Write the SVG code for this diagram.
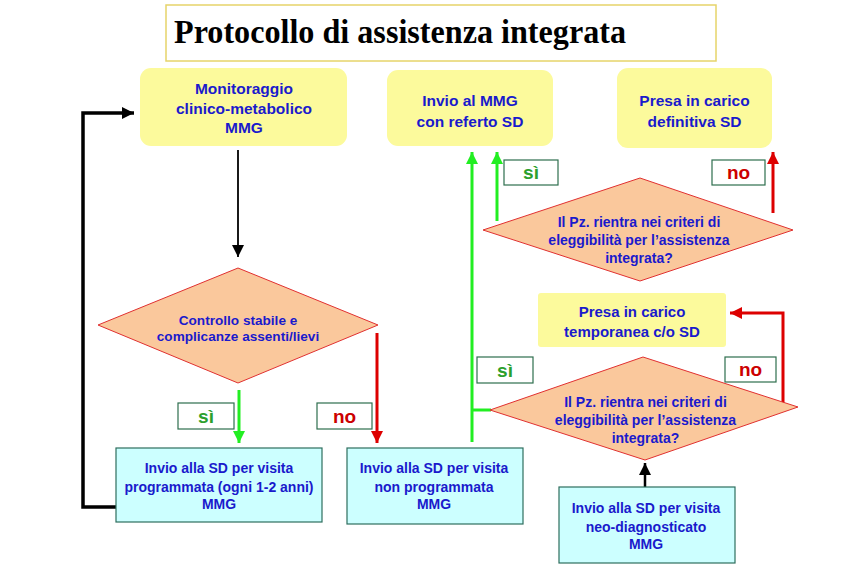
<svg xmlns="http://www.w3.org/2000/svg" width="861" height="578" viewBox="0 0 861 578">
<defs>
<style>
.t{font-family:"Liberation Sans",Arial,sans-serif;font-weight:bold;fill:#1a1acc;text-anchor:middle}
.yb{fill:#fcfa9c;stroke:none}
.dm{fill:#fac89c;stroke:#e03030;stroke-width:1}
.cb{fill:#ccffff;stroke:#2e6e5e;stroke-width:1.2}
.lb{fill:#ffffff;stroke:#2e6e4e;stroke-width:1.2}
.si{font-family:"Liberation Sans",Arial,sans-serif;font-weight:bold;font-size:19px;fill:#2ca02c;text-anchor:middle}
.no{font-family:"Liberation Sans",Arial,sans-serif;font-weight:bold;font-size:19px;fill:#cc0000;text-anchor:middle}
.g{stroke:#22ee22;stroke-width:3;fill:none}
.r{stroke:#dd0000;stroke-width:3;fill:none}
.k{stroke:#000000;fill:none}
</style>
<marker id="ak" markerUnits="userSpaceOnUse" markerWidth="12" markerHeight="12" refX="12" refY="6" orient="auto"><path d="M0,0 L12,6 L0,12 z" fill="#000"/></marker>
<marker id="ag" markerUnits="userSpaceOnUse" markerWidth="12" markerHeight="12" refX="12" refY="6" orient="auto"><path d="M0,0 L12,6 L0,12 z" fill="#22ee22"/></marker>
<marker id="ar" markerUnits="userSpaceOnUse" markerWidth="12" markerHeight="12" refX="12" refY="6" orient="auto"><path d="M0,0 L12,6 L0,12 z" fill="#dd0000"/></marker>
</defs>
<rect width="861" height="578" fill="#ffffff"/>

<g id="title">
<rect x="166" y="5" width="550" height="56" fill="#ffffff" stroke="#e6d46a" stroke-width="1.5"/>
<text x="174" y="43" font-family="'Liberation Serif','Times New Roman',serif" font-weight="bold" font-size="33" fill="#000" textLength="452" lengthAdjust="spacingAndGlyphs">Protocollo di assistenza integrata</text>
</g>

<g id="connectors">
<line class="k" x1="238" y1="150" x2="238" y2="257" stroke-width="1.8" marker-end="url(#ak)"/>
<polyline class="k" points="116,507 83,507 83,113 134,113" stroke-width="3.5" marker-end="url(#ak)"/>
<line class="g" x1="239" y1="390" x2="239" y2="443" marker-end="url(#ag)"/>
<line class="r" x1="377" y1="333" x2="377" y2="443" marker-end="url(#ar)"/>
<line class="g" x1="472" y1="442" x2="472" y2="152" marker-end="url(#ag)"/>
<line class="g" x1="471" y1="410" x2="491" y2="410"/>
<line class="g" x1="497" y1="221" x2="497" y2="152" marker-end="url(#ag)"/>
<line class="r" x1="773" y1="213" x2="773" y2="152" marker-end="url(#ar)"/>
<polyline class="r" points="783,404 783,313 730,313" marker-end="url(#ar)"/>
<line class="k" x1="645" y1="487" x2="645" y2="463" stroke-width="2.5" marker-end="url(#ak)"/>
</g>

<g id="monitoraggio">
<rect class="yb" x="140" y="68" width="207" height="78" rx="11"/>
<text class="t" font-size="15.5" x="244" y="94">Monitoraggio</text>
<text class="t" font-size="15.5" x="244" y="114">clinico-metabolico</text>
<text class="t" font-size="15.5" x="244" y="133">MMG</text>
</g>

<g id="invio-mmg">
<rect class="yb" x="387" y="70" width="166" height="76" rx="11"/>
<text class="t" font-size="15.5" x="470" y="105.5">Invio al MMG</text>
<text class="t" font-size="15.5" x="470" y="126.5">con referto SD</text>
</g>

<g id="presa-definitiva">
<rect class="yb" x="617" y="68" width="155" height="80" rx="11"/>
<text class="t" font-size="15.5" x="694.5" y="105.5">Presa in carico</text>
<text class="t" font-size="15.5" x="694.5" y="126.5">definitiva SD</text>
</g>

<g id="presa-temporanea">
<rect class="yb" x="538" y="293" width="188" height="54" rx="3"/>
<text class="t" font-size="15" x="632" y="317">Presa in carico</text>
<text class="t" font-size="15" x="632" y="337">temporanea c/o SD</text>
</g>

<g id="controllo">
<polygon class="dm" points="98,325 238,268 378,325 238,383"/>
<text class="t" font-size="13.6" x="238" y="325">Controllo stabile e</text>
<text class="t" font-size="13.6" x="238" y="341">complicanze assenti/lievi</text>
</g>

<g id="criteri-1">
<polygon class="dm" points="483,230 640,178 793,230 640,281"/>
<text class="t" font-size="14" x="639" y="227">Il Pz. rientra nei criteri di</text>
<text class="t" font-size="14" x="639" y="245">eleggibilità per l’assistenza</text>
<text class="t" font-size="14" x="639" y="263">integrata?</text>
</g>

<g id="criteri-2">
<polygon class="dm" points="490,410 643,357 798,407 645,460"/>
<text class="t" font-size="14" x="645.5" y="407">Il Pz. rientra nei criteri di</text>
<text class="t" font-size="14" x="645.5" y="425">eleggibilità per l’assistenza</text>
<text class="t" font-size="14" x="645.5" y="443">integrata?</text>
</g>

<g id="visita-programmata">
<rect class="cb" x="116" y="448" width="206" height="74"/>
<text class="t" font-size="14" x="219" y="473">Invio alla SD per visita</text>
<text class="t" font-size="14" x="219" y="492">programmata (ogni 1-2 anni)</text>
<text class="t" font-size="14" x="219" y="509">MMG</text>
</g>

<g id="visita-non-programmata">
<rect class="cb" x="347" y="448" width="176" height="76"/>
<text class="t" font-size="14" x="434" y="473">Invio alla SD per visita</text>
<text class="t" font-size="14" x="434" y="492">non programmata</text>
<text class="t" font-size="14" x="434" y="509">MMG</text>
</g>

<g id="visita-neo">
<rect class="cb" x="559" y="487" width="176" height="76"/>
<text class="t" font-size="14" x="646" y="513">Invio alla SD per visita</text>
<text class="t" font-size="14" x="646" y="532">neo-diagnosticato</text>
<text class="t" font-size="14" x="646" y="549">MMG</text>
</g>

<g id="label-si-1"><rect class="lb" x="178" y="403" width="56" height="26"/><text class="si" x="206" y="422.5">sì</text></g>
<g id="label-no-1"><rect class="lb" x="317" y="403" width="55" height="26"/><text class="no" x="344.5" y="422.5">no</text></g>
<g id="label-si-2"><rect class="lb" x="504" y="160" width="54" height="25"/><text class="si" x="531" y="179">sì</text></g>
<g id="label-no-2"><rect class="lb" x="712" y="160" width="53" height="25"/><text class="no" x="738.5" y="179">no</text></g>
<g id="label-si-3"><rect class="lb" x="477" y="357" width="56" height="26"/><text class="si" x="505" y="376.5">sì</text></g>
<g id="label-no-3"><rect class="lb" x="725" y="357" width="51" height="25"/><text class="no" x="750.5" y="376">no</text></g>
</svg>
